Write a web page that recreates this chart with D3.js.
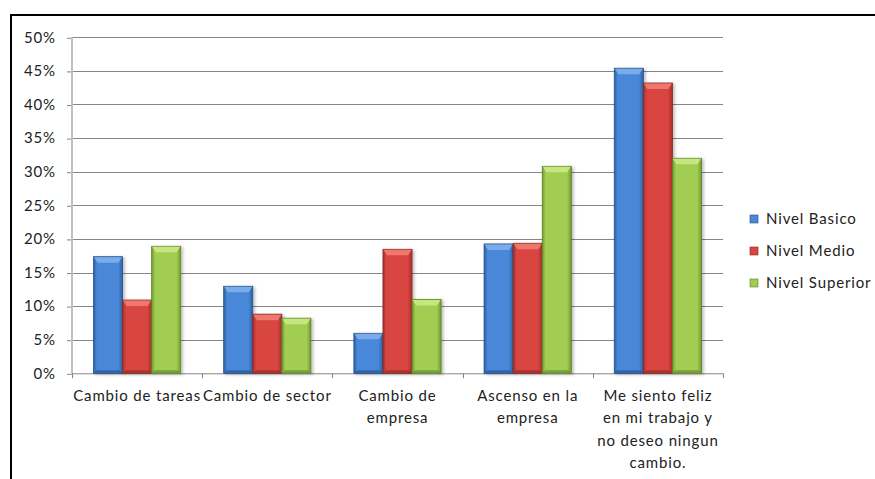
<!DOCTYPE html>
<html><head><meta charset="utf-8">
<script src="https://cdn.jsdelivr.net/npm/d3@7"></script>
<style>body{margin:0;background:#fff;}svg{display:block;}</style>
</head><body>
<script>
const categories = ["Cambio de tareas", "Cambio de sector", "Cambio de\nempresa", "Ascenso en la\nempresa", "Me siento feliz\nen mi trabajo y\nno deseo ningun\ncambio."];
const seriesNames = ["Nivel Basico", "Nivel Medio", "Nivel Superior"];
const basico = [17.35, 12.95, 5.95, 19.25, 45.4];
const medio = [10.9, 8.8, 18.45, 19.35, 43.2];
const superior = [18.9, 8.2, 11.0, 30.8, 32.0];
const yTicks = [0, 5, 10, 15, 20, 25, 30, 35, 40, 45, 50];
const seriesValues = [basico, medio, superior];

const W = 875, H = 479;
const svg = d3.select("body").append("svg").attr("width", W).attr("height", H);
const font = "Lato, 'Open Sans', sans-serif";
const fs = 15, ls = 0.85;

const colors = [
  {mid:"#4a88d8", edge:"#2d5f9f", top:"#7fb0ee", dark:"#24508a"},
  {mid:"#d9453f", edge:"#a5302c", top:"#ef7d76", dark:"#8a2724"},
  {mid:"#a2cd52", edge:"#6f9a33", top:"#cbe985", dark:"#5d8228"}
];
const defs = svg.append("defs");
colors.forEach((c,i)=>{
  const g = defs.append("linearGradient").attr("id","g"+i).attr("x1","0").attr("x2","1").attr("y1","0").attr("y2","0");
  g.append("stop").attr("offset","0").attr("stop-color",c.edge);
  g.append("stop").attr("offset","0.12").attr("stop-color",c.mid);
  g.append("stop").attr("offset","0.85").attr("stop-color",c.mid);
  g.append("stop").attr("offset","1").attr("stop-color",c.edge);
});
const filt = defs.append("filter").attr("id","sh").attr("x","-20%").attr("y","-10%").attr("width","150%").attr("height","130%");
filt.append("feDropShadow").attr("dx",2).attr("dy",1).attr("stdDeviation",1.5).attr("flood-color","#000").attr("flood-opacity",0.25);

// frame
svg.append("line").attr("x1",11).attr("x2",W).attr("y1",15).attr("y2",15).attr("stroke","#000").attr("stroke-width",2);
svg.append("line").attr("x1",11).attr("x2",11).attr("y1",14).attr("y2",H).attr("stroke","#000").attr("stroke-width",2);

const x0 = 72, x1 = 723, yTop = 37.3, yBot = 373.3;
const x = d3.scaleBand().domain(categories).range([x0, x1]).paddingInner(0.33).paddingOuter(0.165);
const xs = d3.scaleBand().domain(seriesNames).range([0, x.bandwidth()]);
const y = d3.scaleLinear().domain([0, 50]).range([yBot, yTop]);

// gridlines
svg.append("g").selectAll("line").data(yTicks.filter(t=>t>0)).join("line")
  .attr("x1", x0).attr("x2", x1).attr("y1", d=>Math.round(y(d))+0.5).attr("y2", d=>Math.round(y(d))+0.5)
  .attr("stroke","#868686").attr("stroke-width",1);

// y axis
const yAxis = d3.axisLeft(y).tickValues(yTicks).tickFormat(d=>d+"%").tickSize(5).tickPadding(4);
const ga = svg.append("g").attr("transform",`translate(${x0},0)`).call(yAxis);
ga.select(".domain").remove();
ga.selectAll(".tick line").attr("stroke","#868686").attr("transform","translate(0,0.5)");
ga.selectAll("text").attr("font-family",font).attr("font-size",fs).attr("letter-spacing",ls).attr("fill","#222").attr("x",-16);
svg.append("line").attr("x1",x0).attr("x2",x0).attr("y1",yTop).attr("y2",yBot).attr("stroke","#c0c0c0").attr("stroke-width",2);

// x axis
const step = (x1-x0)/categories.length;
svg.append("line").attr("x1",x0).attr("x2",x1).attr("y1",yBot+0.5).attr("y2",yBot+0.5).attr("stroke","#868686");
svg.append("g").selectAll("line").data(d3.range(categories.length+1)).join("line")
  .attr("x1",i=>Math.round(x0+i*step)+0.5).attr("x2",i=>Math.round(x0+i*step)+0.5)
  .attr("y1",yBot).attr("y2",yBot+5).attr("stroke","#868686");

// bars
categories.forEach((c,ci)=>{
  seriesValues.forEach((vals,si)=>{
    const bx = x(c)+xs(seriesNames[si]);
    const bw = xs.bandwidth();
    const by = y(vals[ci]);
    const bh = yBot - by;
    const col = colors[si];
    const g = svg.append("g");
    g.append("rect").attr("x",bx).attr("y",by).attr("width",bw).attr("height",bh)
      .attr("fill",`url(#g${si})`).attr("stroke",col.dark).attr("stroke-width",0.8).attr("filter","url(#sh)");
    const bev = Math.min(6, bh/2);
    g.append("path").attr("d",`M${bx+0.5},${by+0.5} L${bx+bw-0.5},${by+0.5} L${bx+bw-4},${by+bev} L${bx+4},${by+bev} Z`)
      .attr("fill",col.top).attr("opacity",0.9);
    g.append("path").attr("d",`M${bx+0.5},${yBot} L${bx+bw-0.5},${yBot} L${bx+bw-3},${yBot-3} L${bx+3},${yBot-3} Z`)
      .attr("fill",col.dark).attr("opacity",0.6);
  });
});

// x labels
categories.forEach(c=>{
  const lines = c.split("\n");
  const t = svg.append("text").attr("text-anchor","middle").attr("font-family",font).attr("font-size",fs).attr("letter-spacing",ls).attr("fill","#222");
  lines.forEach((l,i)=>{
    t.append("tspan").attr("x", x(c)+x.bandwidth()/2).attr("y", 401 + i*22.3).text(l);
  });
});

// legend
const leg = svg.append("g");
seriesNames.forEach((n,i)=>{
  const ly = 219 + i*32;
  leg.append("rect").attr("x",750).attr("y",ly-4).attr("width",8).attr("height",8)
    .attr("fill",colors[i].mid).attr("stroke",colors[i].dark).attr("stroke-width",0.6);
  leg.append("text").attr("x",766).attr("y",ly+5).attr("font-family",font).attr("font-size",fs).attr("letter-spacing",ls).attr("fill","#222").text(n);
});
</script>
</body></html>
